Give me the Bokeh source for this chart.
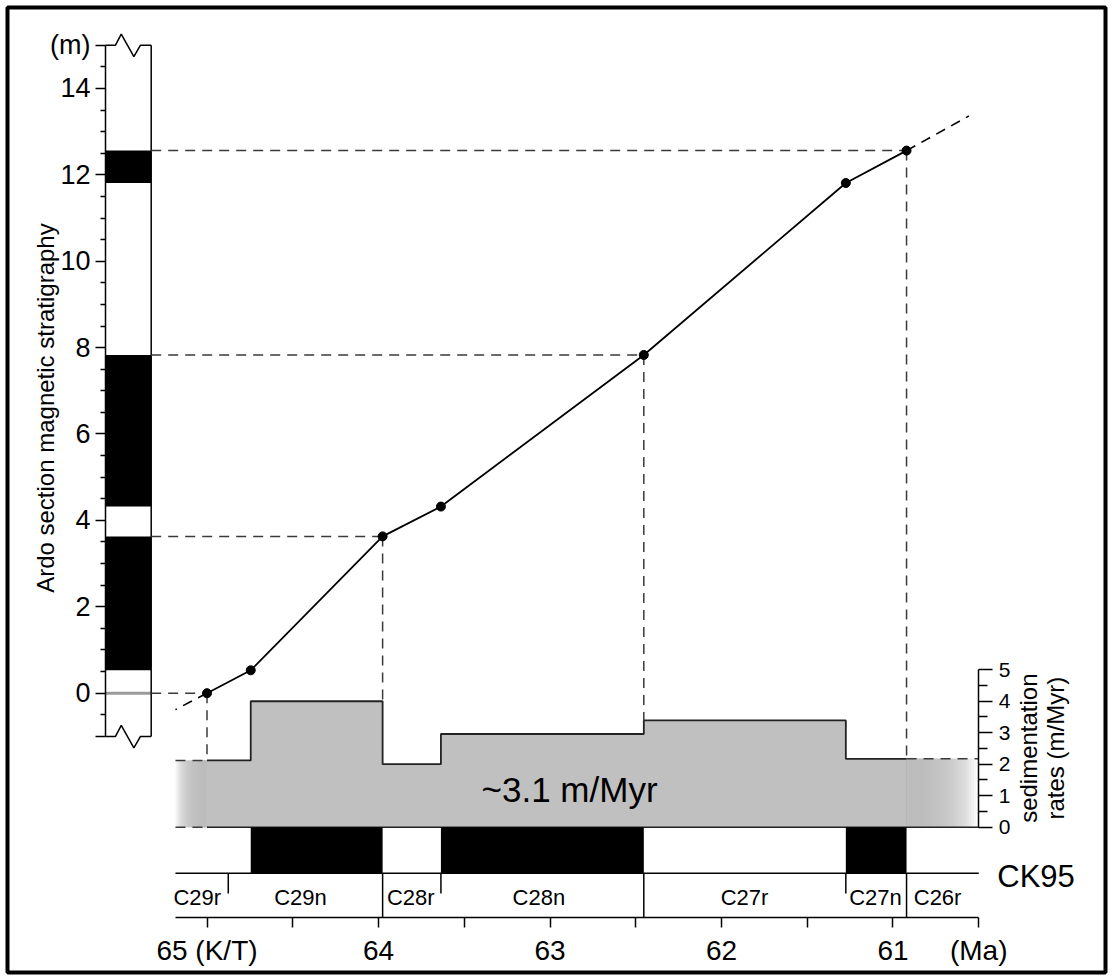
import numpy as np
from bokeh.plotting import figure
from bokeh.models import Range1d, LinearAxis, FixedTicker
from bokeh.embed import file_html
from bokeh.resources import INLINE
from bokeh.core.properties import value

FONT = "Liberation Sans"

# ---------------- data ----------------
# age model tie points: age (Ma, CK95) vs stratigraphic level (m) in the Ardo section
tie_age = [65.0, 64.745, 63.976, 63.636, 62.453, 61.275, 60.921]
tie_depth = [0.0, 0.53, 3.63, 4.32, 7.83, 11.81, 12.56]
guide_idx = [0, 2, 4, 6]          # tie points linked to column / rates with dashed guides
# extrapolation of the age model outside the section
ext_low_age = [65.0, 65.184]
ext_low_depth = [0.0, -0.38]
ext_up_age = [60.921, 60.558]
ext_up_depth = [12.56, 13.36]

# normal-polarity magnetozones in the section (m)
mz_bottom = [0.53, 4.32, 11.81]
mz_top = [3.63, 7.83, 12.56]

# sedimentation rates (m/Myr) between successive tie points
sed_rate = [2.12, 4.0, 2.0, 2.96, 3.39, 2.17]
mean_rate_text = "~3.1 m/Myr"
mean_rate_pos = (62.886, 1.2)

# CK95 geomagnetic polarity time scale
normal_old = [64.745, 63.636, 61.275]
normal_young = [63.976, 62.453, 60.921]
chron_name = ["C29r", "C29n", "C28r", "C28n", "C27r", "C27n", "C26r"]
chron_label_age = [65.057, 64.455, 63.812, 63.065, 61.866, 61.102, 60.74]
full_sep_age = [63.976, 62.453, 60.921]
half_sep_age = [64.876, 63.636, 61.275]

# axes
age_ticks = [65, 64, 63, 62, 61, 60.5]
age_minor = [64.5, 63.5, 62.5, 61.5]
age_labels = {65: "65 (K/T)", 60.5: "(Ma)"}
depth_ticks = [-1, 0, 2, 4, 6, 8, 10, 12, 14, 15]
depth_minor = [-0.5, 0.5, 1, 1.5, 2.5, 3, 3.5, 4.5, 5, 5.5, 6.5, 7, 7.5, 8.5, 9, 9.5,
               10.5, 11, 11.5, 12.5, 13, 13.5, 14.5]
depth_labels = {-1: "", 15: "(m)"}
rate_ticks = [0, 1, 2, 3, 4, 5]
rate_minor = [0.5, 1.5, 2.5, 3.5, 4.5]
depth_title = "Ardo section magnetic stratigraphy"
rate_title = ["sedimentation", "rates (m/Myr)"]
gpts_name = "CK95"

# ---------------- layout (data units of each range) ----------------
AGE_RANGE = (66.1633, 59.7609)
DEPTH_RANGE = (-6.4653, 15.8727)
RATE_RANGE = (-4.6127, 26.0254)
COL_L, COL_R = 65.5918, 65.3254      # magnetostratigraphic column edges (age units)
AXIS_START = 65.184                  # left end of the age axis
AGE_AXIS_AT = -5.1921                # depth units
RATE_AXIS_AT = 60.5
BAR_BOTTOM = -1.46                   # rate units
ROW_BOTTOM = -2.8667
HALF_SEP = -2.105
GRAY = "#c0c0c0"
DASH = "10 7"
DCOL = "#3a3a3a"


def rate_to_depth(r):
    f = (r - RATE_RANGE[0]) / (RATE_RANGE[1] - RATE_RANGE[0])
    return DEPTH_RANGE[0] + f * (DEPTH_RANGE[1] - DEPTH_RANGE[0])


p = figure(width=1112, height=979, x_range=Range1d(*AGE_RANGE), y_range=Range1d(*DEPTH_RANGE),
           x_axis_location=None, y_axis_location=None, toolbar_location=None,
           output_backend="svg", min_border_left=7, min_border_right=7,
           min_border_top=7, min_border_bottom=7,
           outline_line_color="black", outline_line_width=4,
           background_fill_color="white", border_fill_color="white")
p.grid.visible = False
p.extra_y_ranges = {"rate": Range1d(*RATE_RANGE)}

# ---------------- sedimentation rates ----------------
p.varea_step(x=tie_age, y1=[0] * len(tie_age), y2=sed_rate + [sed_rate[-1]], step_mode="after",
             fill_color=GRAY, y_range_name="rate")
# faded ends (nested translucent layers -> smooth gradient)
N, A = 28, 0.12
le = np.linspace(AXIS_START, tie_age[0], N + 1)
p.quad(left=le[:-1], right=[tie_age[0]] * N, bottom=0, top=sed_rate[0], fill_color=GRAY,
       fill_alpha=A, line_color=None, y_range_name="rate")
re_ = np.linspace(tie_age[-1], RATE_AXIS_AT, N + 2)
p.quad(left=[tie_age[-1]] * N, right=re_[1:-1], bottom=0, top=sed_rate[-1], fill_color=GRAY,
       fill_alpha=A, line_color=None, y_range_name="rate")
p.step(x=tie_age, y=sed_rate + [sed_rate[-1]], mode="after", line_color="#222222",
       line_width=1.8, y_range_name="rate")
p.line([AXIS_START, tie_age[0]], [sed_rate[0]] * 2, line_color=DCOL, line_width=1.5,
       line_dash=DASH, y_range_name="rate")
p.line([AXIS_START, tie_age[0]], [0, 0], line_color=DCOL, line_width=1.5,
       line_dash=DASH, y_range_name="rate")
p.line([tie_age[-1], RATE_AXIS_AT], [sed_rate[-1]] * 2, line_color=DCOL, line_width=1.5,
       line_dash=DASH, y_range_name="rate")
p.line([tie_age[0], RATE_AXIS_AT], [0, 0], line_color="#222222", line_width=1.5, y_range_name="rate")

p.text(x=[mean_rate_pos[0]], y=[mean_rate_pos[1]], text=[mean_rate_text], y_range_name="rate",
       text_font=value(FONT), text_font_size=value("35px"), text_align="center",
       text_baseline="middle", text_color="black")

# ---------------- polarity time scale ----------------
p.quad(left=normal_old, right=normal_young, bottom=BAR_BOTTOM, top=0, fill_color="black",
       line_color=None, y_range_name="rate")
p.line([AXIS_START, RATE_AXIS_AT], [BAR_BOTTOM] * 2, line_color="black", line_width=1.5,
       y_range_name="rate")
p.segment(x0=full_sep_age, x1=full_sep_age, y0=BAR_BOTTOM, y1=ROW_BOTTOM, line_color="black",
          line_width=1.5, y_range_name="rate")
p.segment(x0=half_sep_age, x1=half_sep_age, y0=BAR_BOTTOM, y1=HALF_SEP, line_color="black",
          line_width=1.5, y_range_name="rate")
p.text(x=chron_label_age, y=[-2.241] * len(chron_name), text=chron_name, y_range_name="rate",
       text_font=value(FONT), text_font_size=value("22px"), text_align="center",
       text_baseline="middle", text_color="black")
p.text(x=[60.392], y=[-1.559], text=[gpts_name], y_range_name="rate",
       text_font=value(FONT), text_font_size=value("31px"), text_align="left",
       text_baseline="middle", text_color="black")

# ---------------- magnetostratigraphic column ----------------
p.quad(left=COL_L, right=COL_R, bottom=mz_bottom, top=mz_top, fill_color="black", line_color=None)
p.line([COL_L, COL_R], [0, 0], line_color="#9a9a9a", line_width=3)
p.line([COL_R, COL_R], [-1, 15], line_color="black", line_width=1.5)
zz_x = [COL_L, 65.5335, 65.5000, 65.4265, 65.3878, COL_R]
p.line(zz_x, [15, 15, 15.255, 14.736, 15, 15], line_color="black", line_width=1.5)
p.line(zz_x, [-1, -1, -0.745, -1.264, -1, -1], line_color="black", line_width=1.5)

# ---------------- guides ----------------
for k in guide_idx:
    p.line([COL_R, tie_age[k]], [tie_depth[k]] * 2, line_color=DCOL, line_width=1.5, line_dash=DASH)
    adj = [sed_rate[j] for j in (k - 1, k) if 0 <= j < len(sed_rate)]
    p.line([tie_age[k]] * 2, [tie_depth[k], rate_to_depth(max(adj))], line_color=DCOL,
           line_width=1.5, line_dash=DASH)

# ---------------- age-depth model ----------------
p.line(ext_low_age, ext_low_depth, line_color="black", line_width=1.6, line_dash=DASH)
p.line(ext_up_age, ext_up_depth, line_color="black", line_width=1.6, line_dash=DASH)
p.line(tie_age, tie_depth, line_color="black", line_width=1.8)
p.scatter(tie_age, tie_depth, size=9, fill_color="black", line_color="black")

# ---------------- axes ----------------
common = dict(axis_line_width=1.5, major_tick_line_width=1.5, minor_tick_line_width=1.5,
              major_tick_in=0, minor_tick_in=0, major_label_text_font=FONT,
              major_label_text_color="black", axis_line_color="black",
              major_tick_line_color="black", minor_tick_line_color="black")
yax = LinearAxis(fixed_location=COL_L, bounds=(-1, 15),
                 ticker=FixedTicker(ticks=depth_ticks, minor_ticks=depth_minor),
                 major_label_overrides=depth_labels, major_tick_out=10, minor_tick_out=5,
                 major_label_text_font_size="27px", major_label_standoff=5, **common)
p.add_layout(yax, "left")
xax = LinearAxis(fixed_location=AGE_AXIS_AT, bounds=(RATE_AXIS_AT, AXIS_START),
                 ticker=FixedTicker(ticks=age_ticks, minor_ticks=age_minor),
                 major_label_overrides=age_labels, major_tick_out=10, minor_tick_out=10,
                 major_label_text_font_size="28px", major_label_standoff=8, **common)
p.add_layout(xax, "below")
rax = LinearAxis(y_range_name="rate", fixed_location=RATE_AXIS_AT, bounds=(0, 5),
                 ticker=FixedTicker(ticks=rate_ticks, minor_ticks=rate_minor),
                 major_tick_out=14, minor_tick_out=9,
                 major_label_text_font_size="21px", major_label_standoff=6, **common)
p.add_layout(rax, "right")

# axis titles
p.text(x=[65.943], y=[6.60], text=[depth_title], angle=np.pi / 2, text_font=value(FONT),
       text_font_size=value("24px"), text_align="center", text_baseline="middle", text_color="black")
p.text(x=[60.2076, 60.0542], y=[2.51, 2.51], text=rate_title, angle=np.pi / 2,
       y_range_name="rate", text_font=value(FONT), text_font_size=value("24px"),
       text_align="center", text_baseline="middle", text_color="black")

open("out.html", "w").write(file_html(p, INLINE))
